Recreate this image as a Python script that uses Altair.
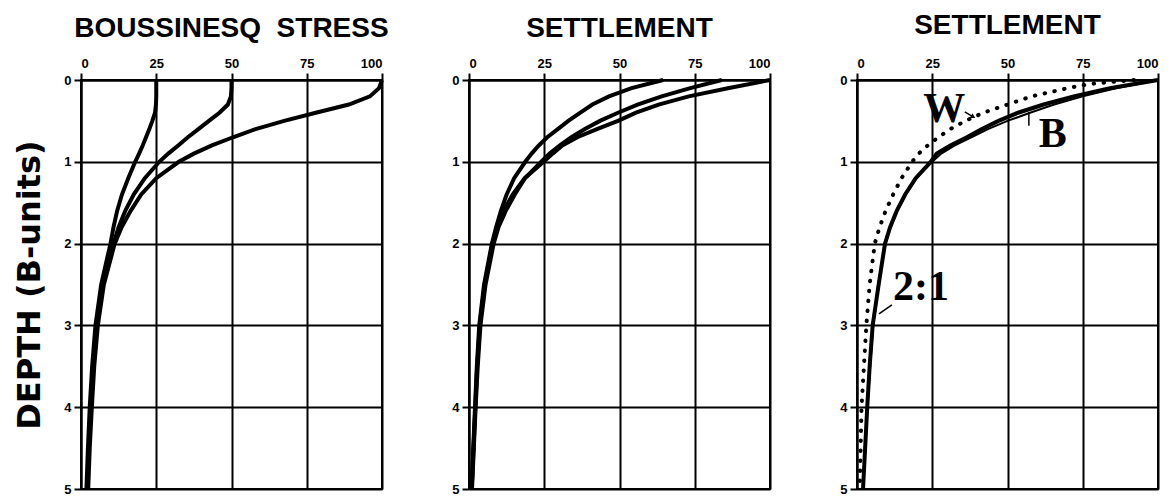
import altair as alt
import pandas as pd

depth = [0, 0.1, 0.2, 0.3, 0.4, 0.5, 0.6, 0.7, 0.8, 0.9, 1.0, 1.2, 1.4, 1.6, 1.8, 2.0,
         2.5, 3.0, 3.5, 4.0, 4.5, 5.0]

# Panel 1: Boussinesq stress
stress_100 = [100, 99, 96, 89, 78, 67.5, 58, 50.5, 43.5, 37.5, 32.5, 25, 20, 16.5, 13.5, 11.2,
              7.6, 5.6, 4.4, 3.6, 2.9, 2.4]
stress_50 = [50, 50, 49.8, 48.8, 46, 42.5, 39, 35.5, 32.3, 29, 26, 21.2, 17.5, 14.7, 12.5, 10.8,
             7.2, 5.2, 4.1, 3.3, 2.6, 2.1]
stress_25 = [25, 25, 25, 24.9, 24.6, 23.7, 22.7, 21.6, 20.5, 19.3, 18, 15.7, 13.6, 12, 10.8, 9.8,
             6.7, 4.8, 3.7, 2.9, 2.3, 1.8]

# Panel 2: settlement
settle_a = [64.5, 54, 46.5, 41, 37, 33, 29.5, 26, 23.2, 20.8, 18.7, 15, 12.5, 10.6, 9, 7.6,
            5.0, 3.4, 2.6, 2.0, 1.4, 0.9]
settle_b = [84, 73.5, 64, 56, 49.5, 43.5, 38.5, 34, 30.2, 26.8, 24, 18.6, 15.2, 12.2, 9.8, 8.2,
            5.5, 3.8, 2.9, 2.2, 1.6, 1.0]
settle_c = [100, 86, 73, 63, 55.5, 49.5, 42.5, 36, 31, 27.8, 24.8, 18.5, 14.5, 11.5, 9.3, 7.8,
            5.2, 3.6, 2.7, 2.1, 1.5, 0.9]

# Panel 3: settlement comparison
settle_21 = [100, 84, 72, 62, 53.5, 47, 41.5, 36.5, 31, 26.5, 24.5, 19.5, 16, 13.2, 11, 9.3,
             7.2, 5.2, 4.2, 3.4, 2.7, 2.0]
settle_bous = [100, 86, 75, 65.5, 57.5, 50, 43.5, 38, 32.5, 28, 25, 19.8, 16.2, 13.4, 11.2, 9.5,
               7.0, 5.4, 4.4, 3.5, 2.8, 2.1]
depth_w = [0, 0.05, 0.1, 0.2, 0.3, 0.4, 0.5, 0.6, 0.7, 0.8, 0.9, 1.0, 1.2, 1.4, 1.6, 1.8, 2.0,
           2.5, 3.0, 3.5, 4.0, 4.5, 5.0]
settle_w = [92, 77, 70, 58, 50, 42, 36, 31, 27, 23.5, 20.5, 18.3, 14.8, 12, 9.5, 7.5, 5.9,
            4.2, 3.1, 2.3, 1.5, 1.2, 0.9]

# annotations (panel 3)
label_text = ["W", "B", "2:1"]
label_x = [29, 65, 21.3]
label_y = [0.51, 0.82, 2.69]
leader_x = [35.8, 57.1, 11.6]
leader_y = [0.39, 0.39, 2.75]
leader_x2 = [38.6, 57.1, 7.3]
leader_y2 = [0.45, 0.56, 2.86]
arrow_x = [38.6]
arrow_y = [0.45]

x_ticks = [0, 25, 50, 75, 100]
y_ticks = [0, 1, 2, 3, 4, 5]

W, H = 301, 409
SANS = "Liberation Sans"
SERIF = "Liberation Serif"


def frame(d):
    rows = []
    for name, (ds, vs) in d.items():
        for dd, vv in zip(ds, vs):
            rows.append({"curve": name, "depth": dd, "value": vv})
    return pd.DataFrame(rows)


def enc_x():
    return alt.X("value:Q", scale=alt.Scale(domain=[0, 100], nice=False, zero=False),
                 axis=alt.Axis(orient="top", values=x_ticks, title=None))


def enc_y(title=None):
    if title:
        ax = alt.Axis(values=y_ticks, title=title, titleFont="DejaVu Sans", titleFontSize=32,
                      titleFontWeight="bold", titleColor="black", titlePadding=17)
    else:
        ax = alt.Axis(values=y_ticks, title=None)
    return alt.Y("depth:Q", scale=alt.Scale(domain=[0, 5], nice=False, zero=False, reverse=True),
                 axis=ax)


def ttl(text, offset):
    return alt.TitleParams(text, font=SANS, fontSize=28, fontWeight="bold", color="black",
                           offset=offset, anchor="middle")


df1 = frame({"100": (depth, stress_100), "50": (depth, stress_50), "25": (depth, stress_25)})
p1 = alt.Chart(df1).mark_line(color="black", strokeWidth=4).encode(
    x=enc_x(), y=enc_y("DEPTH (B-units)"), detail="curve:N", order="depth:Q"
).properties(width=W, height=H, title=ttl("BOUSSINESQ\u00a0 STRESS", 14))

df2 = frame({"a": (depth, settle_a), "b": (depth, settle_b), "c": (depth, settle_c)})
p2 = alt.Chart(df2).mark_line(color="black", strokeWidth=4).encode(
    x=enc_x(), y=enc_y(), detail="curve:N", order="depth:Q"
).properties(width=W, height=H, title=ttl("SETTLEMENT", 14))

df3 = frame({"2:1": (depth, settle_21)})
df3b = frame({"B": (depth, settle_bous)})
df3w = frame({"W": (depth_w, settle_w)})
ann = pd.DataFrame({"text": label_text, "value": label_x, "depth": label_y})
lead = pd.DataFrame({"value": leader_x, "depth": leader_y, "value2": leader_x2, "depth2": leader_y2})
arrow = pd.DataFrame({"value": arrow_x, "depth": arrow_y})

l_21 = alt.Chart(df3).mark_line(color="black", strokeWidth=4).encode(
    x=enc_x(), y=enc_y(), order="depth:Q")
l_b = alt.Chart(df3b).mark_line(color="black", strokeWidth=2).encode(
    x=enc_x(), y=enc_y(), order="depth:Q")
l_w = alt.Chart(df3w).mark_line(color="black", strokeWidth=4, strokeDash=[0.5, 9.5],
                                strokeCap="round").encode(
    x=enc_x(), y=enc_y(), order="depth:Q")
t3 = alt.Chart(ann).mark_text(font=SERIF, fontSize=42, fontWeight="bold", color="black",
                              align="center", baseline="alphabetic").encode(
    x=enc_x(), y=enc_y(), text="text:N")
r3 = alt.Chart(lead).mark_rule(color="black", strokeWidth=1.5).encode(
    x=enc_x(), y=enc_y(), x2="value2:Q", y2="depth2:Q")
a3 = alt.Chart(arrow).mark_point(shape="triangle-right", filled=True, color="black",
                                 size=30, angle=30, opacity=1).encode(
    x=enc_x(), y=enc_y())

p3 = alt.layer(l_w, l_21, l_b, r3, a3, t3).properties(
    width=W, height=H, title=ttl("SETTLEMENT", 17))

chart = alt.hconcat(p1, p2, p3, spacing=87, bounds="flush").properties(
    padding={"left": 4, "top": 3, "right": 0, "bottom": 0},
    background="white"
).configure_view(
    stroke="black", strokeWidth=2
).configure_axis(
    grid=True, gridColor="black", gridWidth=2, gridOpacity=1,
    domainColor="black", domainWidth=2, tickColor="black", tickWidth=2, tickSize=7,
    labelFont=SANS, labelFontSize=13, labelFontWeight="bold", labelColor="black",
    labelPadding=3
)

chart.save("out.html", embed_options={"renderer": "svg", "actions": False})
